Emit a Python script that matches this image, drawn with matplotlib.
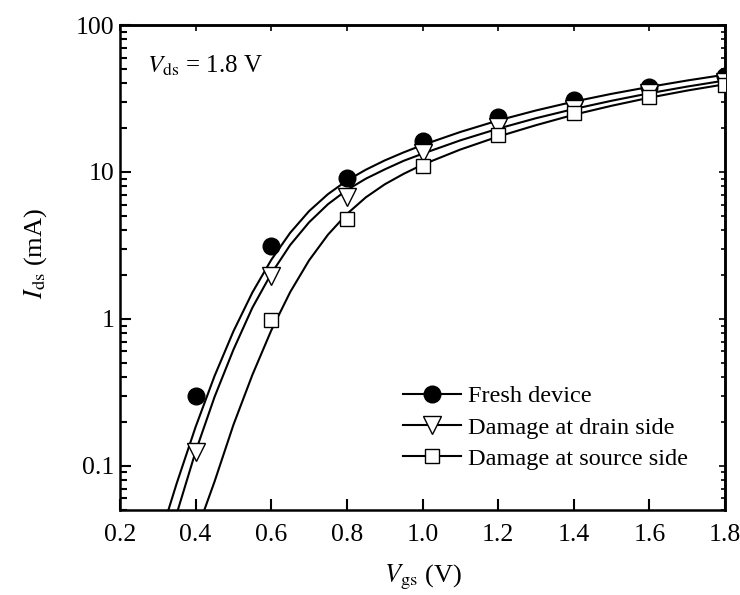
import matplotlib
matplotlib.use('Agg')
import matplotlib.pyplot as plt
from matplotlib.lines import Line2D
from matplotlib.ticker import LogLocator, NullFormatter, FixedLocator, FuncFormatter

plt.rcParams['font.family'] = 'Liberation Serif'
plt.rcParams['mathtext.fontset'] = 'stix'

# measured points
vgs_pts = [0.4, 0.6, 0.8, 1.0, 1.2, 1.4, 1.6, 1.8]
fresh_pts = [0.30, 3.15, 9.1, 16.2, 23.7, 31.0, 38.1, 45.3]
drain_pts = [0.125, 1.97, 6.8, 13.5, 20.2, 26.9, 34.3, 41.0]
vgs_src_pts = [0.6, 0.8, 1.0, 1.2, 1.4, 1.6, 1.8]
source_pts = [0.98, 4.75, 10.9, 17.9, 25.2, 32.5, 39.3]

# fitted curves
fresh_fit_v = [0.328, 0.35, 0.4, 0.45, 0.5, 0.55, 0.6, 0.65, 0.7, 0.75, 0.8, 0.85,
               0.9, 0.95, 1.0, 1.1, 1.2, 1.3, 1.4, 1.5, 1.6, 1.7, 1.8]
fresh_fit_i = [0.05, 0.076, 0.184, 0.408, 0.823, 1.51, 2.52, 3.85, 5.41, 7.06, 8.73, 10.35,
               11.97, 13.58, 15.24, 18.7, 22.4, 26.2, 30.1, 34.0, 37.9, 41.9, 45.9]

drain_fit_v = [0.353, 0.4, 0.45, 0.5, 0.55, 0.6, 0.65, 0.7, 0.75, 0.8, 0.85,
               0.9, 0.95, 1.0, 1.1, 1.2, 1.3, 1.4, 1.5, 1.6, 1.7, 1.8]
drain_fit_i = [0.05, 0.125, 0.294, 0.617, 1.19, 2.03, 3.18, 4.54, 6.03, 7.53, 8.99,
               10.4, 11.9, 13.3, 16.4, 19.7, 23.2, 26.8, 30.5, 34.3, 38.1, 41.9]

source_fit_v = [0.423, 0.45, 0.5, 0.55, 0.6, 0.65, 0.7, 0.75, 0.8, 0.85,
                0.9, 0.95, 1.0, 1.1, 1.2, 1.3, 1.4, 1.5, 1.6, 1.7, 1.8]
source_fit_i = [0.05, 0.078, 0.19, 0.415, 0.834, 1.52, 2.50, 3.74, 5.17, 6.71,
                8.23, 9.70, 11.2, 14.2, 17.4, 20.8, 24.5, 28.2, 32.0, 35.8, 39.5]

labels = ['Fresh device', 'Damage at drain side', 'Damage at source side']
xticks = [0.2, 0.4, 0.6, 0.8, 1.0, 1.2, 1.4, 1.6, 1.8]

fig = plt.figure(figsize=(7.4, 5.95), dpi=100)
ax = fig.add_axes([120 / 740, 1 - 510 / 595, 605 / 740, 485 / 595])

lw = 1.5
ax.plot(fresh_fit_v, fresh_fit_i, '-', color='k', lw=lw, zorder=2)
ax.plot(drain_fit_v, drain_fit_i, '-', color='k', lw=lw, zorder=2)
ax.plot(source_fit_v, source_fit_i, '-', color='k', lw=lw, zorder=2)

ax.plot(vgs_pts, fresh_pts, ls='none', marker='o', ms=12, mfc='k', mec='k', zorder=3)
ax.plot(vgs_pts, drain_pts, ls='none', marker='v', ms=12.5, mfc='white', mec='k',
        mew=1.0, zorder=3)
ax.plot(vgs_src_pts, source_pts, ls='none', marker='s', ms=9.5, mfc='white', mec='k',
        mew=1.0, zorder=3)

ax.set_yscale('log')
ax.set_xlim(0.2, 1.8)
ax.set_ylim(0.05, 100)

ax.xaxis.set_major_locator(FixedLocator(xticks))
ax.xaxis.set_major_formatter(FuncFormatter(lambda v, p: '%.1f' % v))
ax.yaxis.set_major_locator(LogLocator(base=10))
ax.yaxis.set_minor_locator(LogLocator(base=10, subs=range(2, 10)))
ax.yaxis.set_minor_formatter(NullFormatter())
ax.yaxis.set_major_formatter(FuncFormatter(lambda v, p: '%g' % v))

ax.tick_params(which='both', direction='in', width=1.5, labelsize=18.5)
ax.tick_params(which='major', length=8)
ax.tick_params(which='minor', length=5)
ax.tick_params(axis='x', which='major', pad=10)
ax.tick_params(axis='y', which='major', pad=4)
ax.tick_params(axis='x', which='minor', bottom=False)

for s in ax.spines.values():
    s.set_linewidth(1.8)

# shorter ticks on top and right
top = ax.secondary_xaxis('top')
top.xaxis.set_major_locator(FixedLocator(xticks))
top.tick_params(direction='in', length=4, width=1.2, labeltop=False)
right = ax.secondary_yaxis('right')
right.set_yscale('log')
right.yaxis.set_major_locator(LogLocator(base=10))
right.yaxis.set_minor_locator(LogLocator(base=10, subs=range(2, 10)))
right.tick_params(which='both', direction='in', width=1.2, labelright=False)
right.tick_params(which='major', length=4)
right.tick_params(which='minor', length=3)
right.yaxis.set_minor_formatter(NullFormatter())
for sa in (top, right):
    for s in sa.spines.values():
        s.set_linewidth(1.8)

ax.set_xlabel(r'$V_{\rm gs}$ (V)', fontsize=19, labelpad=12)
ax.set_ylabel(r'$I_{\rm ds}$ (mA)', fontsize=19)
ax.yaxis.set_label_coords(-0.118, 0.53)

ax.text(0.045, 0.915, r'$V_{\rm ds}$ = 1.8 V', transform=ax.transAxes,
        fontsize=18, va='center', ha='left')

handles = [
    Line2D([], [], color='k', lw=lw, marker='o', ms=12, mfc='k', mec='k'),
    Line2D([], [], color='k', lw=lw, marker='v', ms=12.5, mfc='white', mec='k', mew=1.0),
    Line2D([], [], color='k', lw=lw, marker='s', ms=9.5, mfc='white', mec='k', mew=1.0),
]
ax.legend(handles, labels, loc='upper left', bbox_to_anchor=(0.468, 0.257),
          frameon=False, fontsize=17.5, handlelength=2.4, handletextpad=0.25,
          labelspacing=0.38, borderpad=0, borderaxespad=0)

fig.savefig('out.png', dpi=100)
